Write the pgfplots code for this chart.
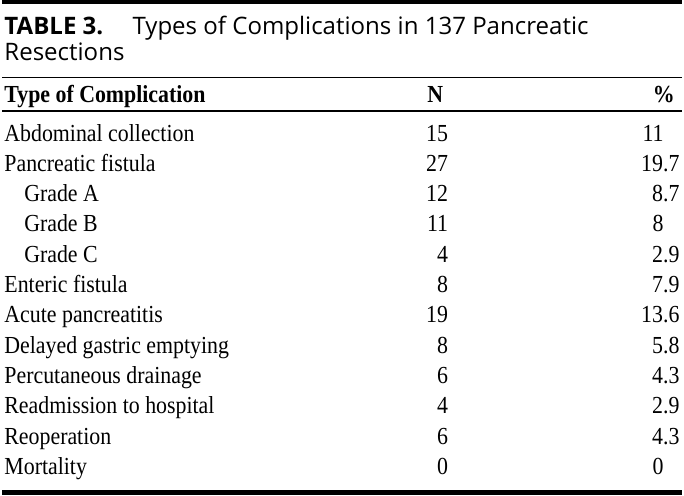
\documentclass[border=0pt]{standalone}
\usepackage{fontspec}
\setmainfont{Liberation Serif}
\newfontfamily\titlefont{Open Sans}
\usepackage{pgfplots}
\usepackage{pgfplotstable}
\pgfplotsset{compat=1.18}

% split "19.7" so that the decimal point sits at the node anchor
\def\splitdec#1.#2.#3\relax{\llap{#1}\ifx\relax#2\relax\else.#2\fi}
% the scan's glyphs are a little taller than they are wide
\newcommand\tall[1]{\scalebox{1}[1.12]{#1}}

\pgfplotstableread{
y     lx label                      n  pct
142   2  {Abdominal collection}     15 11
172.5 2  {Pancreatic fistula}       27 19.7
203   22 {Grade A}                  12 8.7
233.5 22 {Grade B}                  11 8
264   22 {Grade C}                  4  2.9
294.5 2  {Enteric fistula}          8  7.9
325   2  {Acute pancreatitis}       19 13.6
355.5 2  {Delayed gastric emptying} 8  5.8
386   2  {Percutaneous drainage}    6  4.3
416.5 2  {Readmission to hospital}  4  2.9
447   2  {Reoperation}              6  4.3
477.5 2  {Mortality}                0  0
}\rows

\newcommand\bodyfont{\fontsize{22}{26}\selectfont}
\newcommand\headfont{\titlefont\fontsize{24.2}{28}\selectfont}

\begin{document}
\begin{tikzpicture}
\begin{axis}[
  width=684pt, height=499pt, scale only axis,
  xmin=0, xmax=684, ymin=0, ymax=499, y dir=reverse,
  hide axis, clip=false,
  point meta=explicit symbolic,
  every node near coord/.append style={inner sep=0pt, font=\bodyfont},
]
\path (axis cs:0,0) rectangle (axis cs:684,499);

% rules
\draw[line width=4pt] (axis cs:0,2) -- (axis cs:684,2);
\draw[line width=2pt] (axis cs:0,78) -- (axis cs:684,78);
\draw[line width=2.5pt] (axis cs:0,111.5) -- (axis cs:684,111.5);
\draw[line width=4.5pt] (axis cs:0,495.5) -- (axis cs:684,495.5);

% title and header
\node[anchor=base west, inner sep=0pt, font=\headfont\bfseries] at (axis cs:2,35) {TABLE 3.};
\node[anchor=base west, inner sep=0pt, font=\headfont] at (axis cs:131,35) {Types of Complications in 137 Pancreatic};
\node[anchor=base west, inner sep=0pt, font=\headfont] at (axis cs:2,61) {Resections};
\node[anchor=base west, inner sep=0pt, font=\bodyfont\bfseries] at (axis cs:2,103) {\tall{Type of Complication}};
\node[anchor=base, inner sep=0pt, font=\bodyfont\bfseries] at (axis cs:436,103) {\tall{N}};
\node[anchor=base, inner sep=0pt, font=\bodyfont\bfseries] at (axis cs:666,103) {\tall{\%}};

% body columns
\addplot[draw=none, nodes near coords={\tall{\pgfplotspointmeta}},
  every node near coord/.append style={anchor=base west}]
  table[x=lx, y=y, meta=label] {\rows};
\addplot[draw=none, nodes near coords={\tall{\pgfplotspointmeta}},
  every node near coord/.append style={anchor=base east}]
  table[x expr=449, y=y, meta=n] {\rows};
\addplot[draw=none,
  nodes near coords={\tall{\expandafter\splitdec\pgfplotspointmeta..\relax}},
  every node near coord/.append style={anchor=base west}]
  table[x expr=665, y=y, meta=pct] {\rows};
\end{axis}
\end{tikzpicture}
\end{document}
